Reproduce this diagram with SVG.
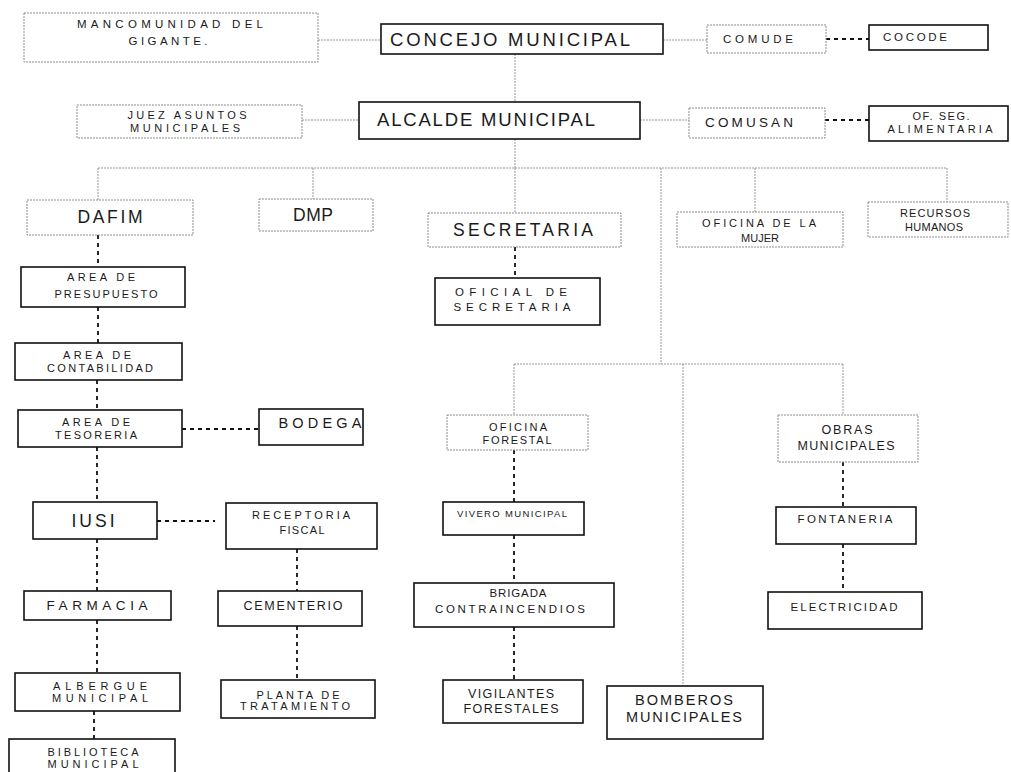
<svg xmlns="http://www.w3.org/2000/svg" width="1011" height="772" viewBox="0 0 1011 772">
<style>
.lb{fill:#fff;stroke:#8c8c8c;stroke-width:1;stroke-dasharray:2 1}
.sb{fill:#fff;stroke:#111;stroke-width:1.6}
.ln{stroke:#999;stroke-width:1;stroke-dasharray:2 1;fill:none}
.dl{stroke:#111;stroke-width:1.8;stroke-dasharray:4 4;fill:none}
text{font-family:"Liberation Sans",Arial,sans-serif;fill:#1a1a1a;text-anchor:middle}
.s{font-size:11px}
.s11{font-size:11.5px}
.s12{font-size:12.5px}
.m{font-size:13.5px}
.m14{font-size:14.5px}
.b{font-size:17.5px}
.xb{font-size:18.5px}
</style>
<rect width="1011" height="772" fill="#fff"/>
<g id="connectors">
<line class="ln" x1="318" y1="40" x2="381" y2="40"/>
<line class="ln" x1="663" y1="40" x2="707" y2="40"/>
<line class="dl" x1="826" y1="39" x2="869" y2="39"/>
<line class="ln" x1="515" y1="54" x2="515" y2="102"/>
<line class="ln" x1="302" y1="120" x2="359" y2="120"/>
<line class="ln" x1="640" y1="120" x2="689" y2="120"/>
<line class="dl" x1="825" y1="120" x2="869" y2="120"/>
<line class="ln" x1="515" y1="139" x2="515" y2="168"/>
<line class="ln" x1="98" y1="168" x2="947" y2="168"/>
<line class="ln" x1="98" y1="168" x2="98" y2="200"/>
<line class="ln" x1="313" y1="168" x2="313" y2="199"/>
<line class="ln" x1="515" y1="168" x2="515" y2="213"/>
<line class="ln" x1="661" y1="168" x2="661" y2="364"/>
<line class="ln" x1="755" y1="168" x2="755" y2="212"/>
<line class="ln" x1="947" y1="168" x2="947" y2="202"/>
<line class="ln" x1="514" y1="364" x2="843" y2="364"/>
<line class="ln" x1="514" y1="364" x2="514" y2="415"/>
<line class="ln" x1="683" y1="364" x2="683" y2="686"/>
<line class="ln" x1="843" y1="364" x2="843" y2="415"/>
<line class="dl" x1="98" y1="235" x2="98" y2="267"/>
<line class="dl" x1="98" y1="307" x2="98" y2="343"/>
<line class="dl" x1="97" y1="380" x2="97" y2="410"/>
<line class="dl" x1="182" y1="429" x2="259" y2="429"/>
<line class="dl" x1="97" y1="447" x2="97" y2="502"/>
<line class="dl" x1="157" y1="521" x2="215" y2="521"/>
<line class="dl" x1="97" y1="539" x2="97" y2="591"/>
<line class="dl" x1="297" y1="549" x2="297" y2="591"/>
<line class="dl" x1="97" y1="620" x2="97" y2="673"/>
<line class="dl" x1="297" y1="626" x2="297" y2="680"/>
<line class="dl" x1="94" y1="711" x2="94" y2="739"/>
<line class="dl" x1="515" y1="247" x2="515" y2="278"/>
<line class="dl" x1="514" y1="450" x2="514" y2="502"/>
<line class="dl" x1="514" y1="535" x2="514" y2="583"/>
<line class="dl" x1="514" y1="627" x2="514" y2="680"/>
<line class="dl" x1="843" y1="462" x2="843" y2="507"/>
<line class="dl" x1="843" y1="544" x2="843" y2="592"/>
</g>
<g id="mancomunidad"><rect class="lb" x="24" y="13" width="294" height="49"/>
<text class="s11" x="170" y="28" textLength="186" lengthAdjust="spacing">MANCOMUNIDAD  DEL</text>
<text class="s11" x="168" y="45" textLength="79" lengthAdjust="spacing">GIGANTE.</text></g>
<g id="concejo"><rect class="sb" x="381" y="24" width="282" height="30"/>
<text class="xb" x="510" y="46" textLength="240" lengthAdjust="spacing">CONCEJO  MUNICIPAL</text></g>
<g id="comude"><rect class="lb" x="707" y="25" width="119" height="28"/>
<text class="s11" x="758" y="43" textLength="70" lengthAdjust="spacing">COMUDE</text></g>
<g id="cocode"><rect class="sb" x="869" y="25" width="119" height="25"/>
<text class="s11" x="915" y="41" textLength="64" lengthAdjust="spacing">COCODE</text></g>
<g id="juez"><rect class="lb" x="77" y="105" width="225" height="33"/>
<text class="s" x="187" y="119" textLength="119" lengthAdjust="spacing">JUEZ ASUNTOS</text>
<text class="s" x="185" y="132" textLength="110" lengthAdjust="spacing">MUNICIPALES</text></g>
<g id="alcalde"><rect class="sb" x="359" y="102" width="281" height="37"/>
<text class="xb" x="486" y="126" textLength="218" lengthAdjust="spacing">ALCALDE MUNICIPAL</text></g>
<g id="comusan"><rect class="lb" x="689" y="108" width="136" height="30"/>
<text class="m" x="749" y="127" textLength="88" lengthAdjust="spacing">COMUSAN</text></g>
<g id="ofseg"><rect class="sb" x="869" y="106" width="139" height="35"/>
<text class="s" x="941" y="120" textLength="57" lengthAdjust="spacing">OF. SEG.</text>
<text class="s" x="940" y="133" textLength="105" lengthAdjust="spacing">ALIMENTARIA</text></g>
<g id="dafim"><rect class="lb" x="27" y="200" width="166" height="35"/>
<text class="b" x="110" y="223" textLength="65" lengthAdjust="spacing">DAFIM</text></g>
<g id="dmp"><rect class="lb" x="259" y="199" width="114" height="32"/>
<text class="b" x="313" y="221" textLength="40" lengthAdjust="spacing">DMP</text></g>
<g id="secretaria"><rect class="lb" x="428" y="213" width="193" height="34"/>
<text class="b" x="523" y="236" textLength="140" lengthAdjust="spacing">SECRETARIA</text></g>
<g id="mujer"><rect class="lb" x="677" y="212" width="166" height="35"/>
<text class="s" x="759" y="227" textLength="114" lengthAdjust="spacing">OFICINA DE LA</text>
<text class="s" x="760" y="242" textLength="38" lengthAdjust="spacing">MUJER</text></g>
<g id="rrhh"><rect class="lb" x="868" y="202" width="140" height="35"/>
<text class="s" x="935" y="217" textLength="70" lengthAdjust="spacing">RECURSOS</text>
<text class="s" x="934" y="231" textLength="58" lengthAdjust="spacing">HUMANOS</text></g>
<g id="presupuesto"><rect class="sb" x="21" y="267" width="164" height="40"/>
<text class="s" x="101" y="281" textLength="68" lengthAdjust="spacing">AREA DE</text>
<text class="s" x="106" y="298" textLength="103" lengthAdjust="spacing">PRESUPUESTO</text></g>
<g id="oficial"><rect class="sb" x="435" y="278" width="165" height="47"/>
<text class="s11" x="511" y="296" textLength="112" lengthAdjust="spacing">OFICIAL  DE</text>
<text class="s11" x="512" y="311" textLength="117" lengthAdjust="spacing">SECRETARIA</text></g>
<g id="contabilidad"><rect class="sb" x="15" y="343" width="167" height="37"/>
<text class="s" x="97" y="359" textLength="68" lengthAdjust="spacing">AREA DE</text>
<text class="s" x="100" y="372" textLength="106" lengthAdjust="spacing">CONTABILIDAD</text></g>
<g id="tesoreria"><rect class="sb" x="18" y="410" width="164" height="37"/>
<text class="s" x="96" y="426" textLength="68" lengthAdjust="spacing">AREA DE</text>
<text class="s" x="96" y="439" textLength="82" lengthAdjust="spacing">TESORERIA</text></g>
<g id="bodega"><rect class="sb" x="259" y="409" width="104" height="36"/>
<text class="m14" x="320" y="428" textLength="83" lengthAdjust="spacing">BODEGA</text></g>
<g id="iusi"><rect class="sb" x="33" y="502" width="124" height="37"/>
<text class="b" x="93" y="527" textLength="43" lengthAdjust="spacing">IUSI</text></g>
<g id="receptoria"><rect class="sb" x="226" y="503" width="151" height="46"/>
<text class="s" x="301" y="519" textLength="98" lengthAdjust="spacing">RECEPTORIA</text>
<text class="s" x="302" y="534" textLength="45" lengthAdjust="spacing">FISCAL</text></g>
<g id="farmacia"><rect class="sb" x="24" y="591" width="147" height="29"/>
<text class="m" x="97" y="610" textLength="101" lengthAdjust="spacing">FARMACIA</text></g>
<g id="cementerio"><rect class="sb" x="218" y="591" width="144" height="35"/>
<text class="s12" x="293" y="610" textLength="99" lengthAdjust="spacing">CEMENTERIO</text></g>
<g id="albergue"><rect class="sb" x="15" y="673" width="165" height="38"/>
<text class="s" x="100" y="690" textLength="94" lengthAdjust="spacing">ALBERGUE</text>
<text class="s" x="100" y="702" textLength="96" lengthAdjust="spacing">MUNICIPAL</text></g>
<g id="biblioteca"><rect class="sb" x="9" y="739" width="166" height="40"/>
<text class="s" x="93" y="756" textLength="91" lengthAdjust="spacing">BIBLIOTECA</text>
<text class="s" x="93" y="768" textLength="91" lengthAdjust="spacing">MUNICIPAL</text></g>
<g id="planta"><rect class="sb" x="221" y="680" width="154" height="38"/>
<text class="s" x="298" y="699" textLength="83" lengthAdjust="spacing">PLANTA DE</text>
<text class="s" x="295" y="710" textLength="110" lengthAdjust="spacing">TRATAMIENTO</text></g>
<g id="forestal"><rect class="lb" x="447" y="415" width="141" height="35"/>
<text class="s" x="518" y="431" textLength="58" lengthAdjust="spacing">OFICINA</text>
<text class="s" x="517" y="444" textLength="69" lengthAdjust="spacing">FORESTAL</text></g>
<g id="vivero"><rect class="sb" x="443" y="502" width="141" height="33"/>
<text class="s" x="512" y="517" textLength="110" lengthAdjust="spacing" style="font-size:9.5px">VIVERO MUNICIPAL</text></g>
<g id="brigada"><rect class="sb" x="414" y="583" width="200" height="44"/>
<text class="s11" x="518" y="597" textLength="57" lengthAdjust="spacing">BRIGADA</text>
<text class="s11" x="510" y="613" textLength="150" lengthAdjust="spacing">CONTRAINCENDIOS</text></g>
<g id="vigilantes"><rect class="sb" x="443" y="680" width="140" height="43"/>
<text class="s12" x="511" y="698" textLength="86" lengthAdjust="spacing">VIGILANTES</text>
<text class="s12" x="511" y="713" textLength="95" lengthAdjust="spacing">FORESTALES</text></g>
<g id="bomberos"><rect class="sb" x="607" y="686" width="156" height="53"/>
<text class="m14" x="684" y="705" textLength="98" lengthAdjust="spacing">BOMBEROS</text>
<text class="m14" x="684" y="722" textLength="116" lengthAdjust="spacing">MUNICIPALES</text></g>
<g id="obras"><rect class="lb" x="778" y="415" width="140" height="47"/>
<text class="s12" x="847" y="434" textLength="51" lengthAdjust="spacing">OBRAS</text>
<text class="s12" x="846" y="450" textLength="97" lengthAdjust="spacing">MUNICIPALES</text></g>
<g id="fontaneria"><rect class="sb" x="776" y="507" width="140" height="37"/>
<text class="s11" x="845" y="523" textLength="95" lengthAdjust="spacing">FONTANERIA</text></g>
<g id="electricidad"><rect class="sb" x="768" y="592" width="154" height="37"/>
<text class="s11" x="844" y="611" textLength="107" lengthAdjust="spacing">ELECTRICIDAD</text></g>
</svg>
